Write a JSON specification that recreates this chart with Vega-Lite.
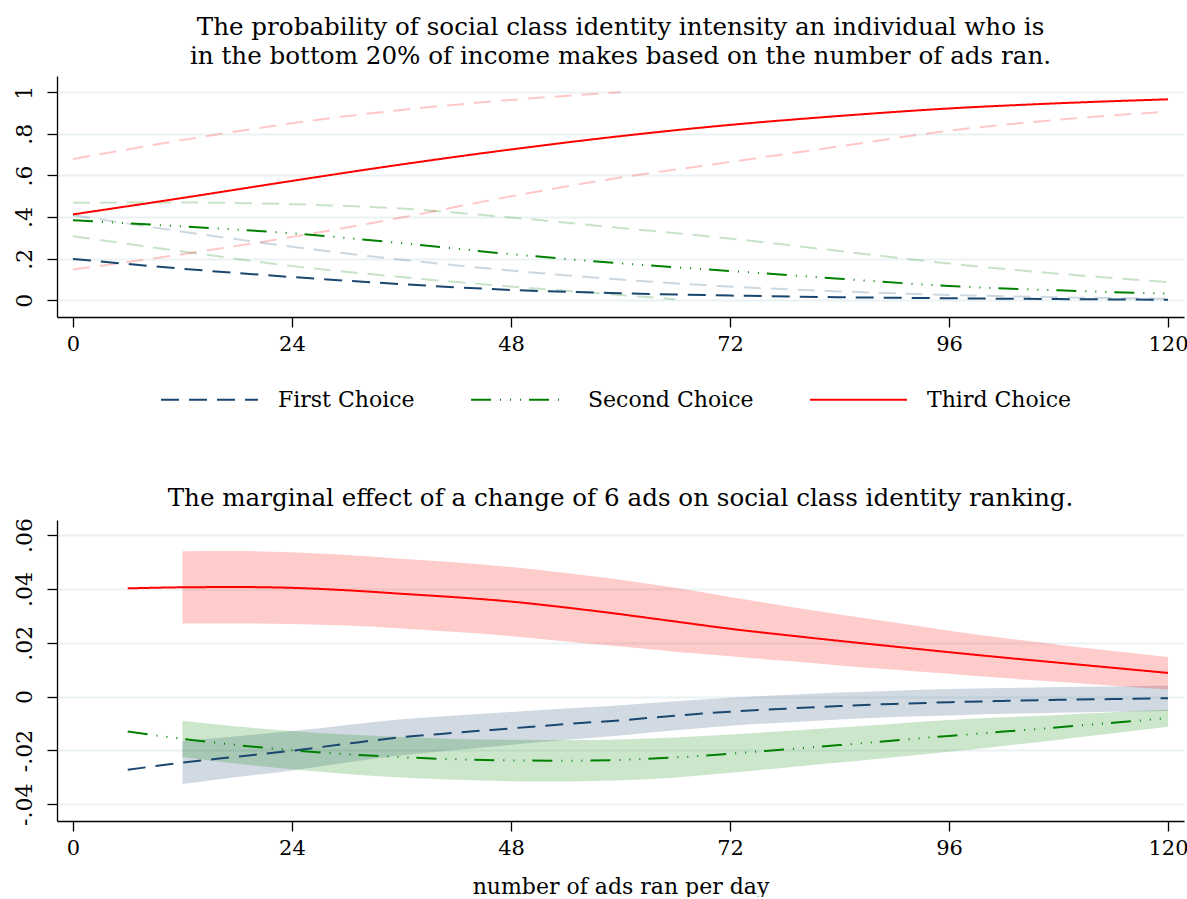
{
  "$schema": "https://vega.github.io/schema/vega-lite/v6.json",
  "background": "white",
  "padding": {"left": 12, "top": 15, "right": 0, "bottom": 0},
  "spacing": 74,
  "config": {
    "font": "DejaVu Serif",
    "view": {"stroke": null},
    "axis": {
      "labelFont": "DejaVu Serif",
      "labelFontSize": 22,
      "labelColor": "black",
      "domainColor": "black",
      "domainWidth": 1.3,
      "tickColor": "black",
      "tickWidth": 1.3,
      "tickSize": 10,
      "gridColor": "#eaf2f3",
      "gridWidth": 1.8,
      "titleFont": "DejaVu Serif",
      "titleFontSize": 22,
      "titleFontWeight": "normal",
      "titleColor": "black"
    },
    "axisY": {"labelAngle": -90, "labelAlign": "center", "labelBaseline": "bottom", "labelPadding": 11},
    "axisX": {"labelPadding": 6, "labelFontSize": 21, "grid": false},
    "title": {"font": "DejaVu Serif", "fontSize": 24.6, "fontWeight": "normal", "color": "black", "lineHeight": 29}
  },
  "resolve": {
    "scale": {"color": "independent", "strokeDash": "independent", "x": "independent", "y": "independent"},
    "legend": {"color": "independent", "strokeDash": "independent"}
  },
  "vconcat": [
    {
      "width": 1127,
      "height": 241,
      "title": {
        "text": [
          "The probability of social class identity intensity an individual who is",
          "in the bottom 20% of income makes based on the number of ads ran."
        ],
        "offset": 6
      },
      "data": {
        "values": [
          {"ads": 0, "choice": "First Choice", "kind": "est", "p": 0.199},
          {"ads": 12, "choice": "First Choice", "kind": "est", "p": 0.152},
          {"ads": 24, "choice": "First Choice", "kind": "est", "p": 0.112},
          {"ads": 36, "choice": "First Choice", "kind": "est", "p": 0.078},
          {"ads": 48, "choice": "First Choice", "kind": "est", "p": 0.050},
          {"ads": 60, "choice": "First Choice", "kind": "est", "p": 0.034},
          {"ads": 72, "choice": "First Choice", "kind": "est", "p": 0.023},
          {"ads": 84, "choice": "First Choice", "kind": "est", "p": 0.015},
          {"ads": 96, "choice": "First Choice", "kind": "est", "p": 0.010},
          {"ads": 108, "choice": "First Choice", "kind": "est", "p": 0.006},
          {"ads": 120, "choice": "First Choice", "kind": "est", "p": 0.003},
          {"ads": 0, "choice": "First Choice", "kind": "hi", "p": 0.409},
          {"ads": 12, "choice": "First Choice", "kind": "hi", "p": 0.330},
          {"ads": 24, "choice": "First Choice", "kind": "hi", "p": 0.258},
          {"ads": 36, "choice": "First Choice", "kind": "hi", "p": 0.195},
          {"ads": 48, "choice": "First Choice", "kind": "hi", "p": 0.143},
          {"ads": 60, "choice": "First Choice", "kind": "hi", "p": 0.100},
          {"ads": 72, "choice": "First Choice", "kind": "hi", "p": 0.066},
          {"ads": 84, "choice": "First Choice", "kind": "hi", "p": 0.043},
          {"ads": 96, "choice": "First Choice", "kind": "hi", "p": 0.026},
          {"ads": 108, "choice": "First Choice", "kind": "hi", "p": 0.015},
          {"ads": 120, "choice": "First Choice", "kind": "hi", "p": 0.008},
          {"ads": 0, "choice": "Second Choice", "kind": "est", "p": 0.385},
          {"ads": 12, "choice": "Second Choice", "kind": "est", "p": 0.355},
          {"ads": 24, "choice": "Second Choice", "kind": "est", "p": 0.322},
          {"ads": 36, "choice": "Second Choice", "kind": "est", "p": 0.275},
          {"ads": 48, "choice": "Second Choice", "kind": "est", "p": 0.222},
          {"ads": 60, "choice": "Second Choice", "kind": "est", "p": 0.178},
          {"ads": 72, "choice": "Second Choice", "kind": "est", "p": 0.141},
          {"ads": 84, "choice": "Second Choice", "kind": "est", "p": 0.104},
          {"ads": 96, "choice": "Second Choice", "kind": "est", "p": 0.069},
          {"ads": 108, "choice": "Second Choice", "kind": "est", "p": 0.048},
          {"ads": 120, "choice": "Second Choice", "kind": "est", "p": 0.032},
          {"ads": 0, "choice": "Second Choice", "kind": "hi", "p": 0.469},
          {"ads": 12, "choice": "Second Choice", "kind": "hi", "p": 0.470},
          {"ads": 24, "choice": "Second Choice", "kind": "hi", "p": 0.462},
          {"ads": 36, "choice": "Second Choice", "kind": "hi", "p": 0.441},
          {"ads": 48, "choice": "Second Choice", "kind": "hi", "p": 0.398},
          {"ads": 60, "choice": "Second Choice", "kind": "hi", "p": 0.348},
          {"ads": 72, "choice": "Second Choice", "kind": "hi", "p": 0.297},
          {"ads": 84, "choice": "Second Choice", "kind": "hi", "p": 0.237},
          {"ads": 96, "choice": "Second Choice", "kind": "hi", "p": 0.177},
          {"ads": 108, "choice": "Second Choice", "kind": "hi", "p": 0.128},
          {"ads": 120, "choice": "Second Choice", "kind": "hi", "p": 0.088},
          {"ads": 0, "choice": "Second Choice", "kind": "lo", "p": 0.308},
          {"ads": 12, "choice": "Second Choice", "kind": "lo", "p": 0.235},
          {"ads": 24, "choice": "Second Choice", "kind": "lo", "p": 0.165},
          {"ads": 36, "choice": "Second Choice", "kind": "lo", "p": 0.112},
          {"ads": 48, "choice": "Second Choice", "kind": "lo", "p": 0.066},
          {"ads": 60, "choice": "Second Choice", "kind": "lo", "p": 0.026},
          {"ads": 66, "choice": "Second Choice", "kind": "lo", "p": 0.005},
          {"ads": 0, "choice": "Third Choice", "kind": "est", "p": 0.413},
          {"ads": 12, "choice": "Third Choice", "kind": "est", "p": 0.492},
          {"ads": 24, "choice": "Third Choice", "kind": "est", "p": 0.574},
          {"ads": 36, "choice": "Third Choice", "kind": "est", "p": 0.653},
          {"ads": 48, "choice": "Third Choice", "kind": "est", "p": 0.725},
          {"ads": 60, "choice": "Third Choice", "kind": "est", "p": 0.789},
          {"ads": 72, "choice": "Third Choice", "kind": "est", "p": 0.843},
          {"ads": 84, "choice": "Third Choice", "kind": "est", "p": 0.886},
          {"ads": 96, "choice": "Third Choice", "kind": "est", "p": 0.922},
          {"ads": 108, "choice": "Third Choice", "kind": "est", "p": 0.947},
          {"ads": 120, "choice": "Third Choice", "kind": "est", "p": 0.966},
          {"ads": 0, "choice": "Third Choice", "kind": "hi", "p": 0.679},
          {"ads": 12, "choice": "Third Choice", "kind": "hi", "p": 0.770},
          {"ads": 24, "choice": "Third Choice", "kind": "hi", "p": 0.851},
          {"ads": 36, "choice": "Third Choice", "kind": "hi", "p": 0.915},
          {"ads": 48, "choice": "Third Choice", "kind": "hi", "p": 0.963},
          {"ads": 60, "choice": "Third Choice", "kind": "hi", "p": 1.000},
          {"ads": 0, "choice": "Third Choice", "kind": "lo", "p": 0.148},
          {"ads": 12, "choice": "Third Choice", "kind": "lo", "p": 0.222},
          {"ads": 24, "choice": "Third Choice", "kind": "lo", "p": 0.305},
          {"ads": 36, "choice": "Third Choice", "kind": "lo", "p": 0.398},
          {"ads": 48, "choice": "Third Choice", "kind": "lo", "p": 0.500},
          {"ads": 60, "choice": "Third Choice", "kind": "lo", "p": 0.590},
          {"ads": 72, "choice": "Third Choice", "kind": "lo", "p": 0.665},
          {"ads": 84, "choice": "Third Choice", "kind": "lo", "p": 0.740},
          {"ads": 96, "choice": "Third Choice", "kind": "lo", "p": 0.815},
          {"ads": 108, "choice": "Third Choice", "kind": "lo", "p": 0.868},
          {"ads": 120, "choice": "Third Choice", "kind": "lo", "p": 0.907}
        ]
      },
      "encoding": {
        "x": {
          "field": "ads",
          "type": "quantitative",
          "scale": {"domain": [-1.75, 121.75], "nice": false, "zero": false},
          "axis": {"values": [0, 24, 48, 72, 96, 120], "title": null}
        },
        "y": {
          "field": "p",
          "type": "quantitative",
          "scale": {"domain": [-0.08, 1.078], "nice": false, "zero": false},
          "axis": {
            "values": [0, 0.2, 0.4, 0.6, 0.8, 1],
            "grid": true,
            "title": null,
            "labelExpr": "datum.value == 0 ? '0' : replace(format(datum.value, '~g'), '0.', '.')"
          }
        },
        "color": {
          "field": "choice",
          "type": "nominal",
          "scale": {"domain": ["First Choice", "Second Choice", "Third Choice"], "range": ["#1a476f", "#008000", "#ff0000"]},
          "legend": {
            "orient": "none",
            "legendX": 103,
            "legendY": 274,
            "direction": "horizontal",
            "title": null,
            "symbolType": "stroke",
            "symbolSize": 9400,
            "symbolStrokeWidth": 2,
            "symbolOpacity": 1,
            "labelFont": "DejaVu Serif",
            "labelFontSize": 22,
            "labelColor": "black",
            "labelLimit": 400,
            "labelOffset": 19,
            "columnPadding": 52
          }
        }
      },
      "layer": [
        {
          "transform": [{"filter": "datum.kind != 'est'"}],
          "mark": {"type": "line", "strokeWidth": 2, "strokeDash": [17, 10], "opacity": 0.22, "interpolate": "monotone"},
          "encoding": {
            "detail": {"field": "kind"}
          }
        },
        {
          "transform": [{"filter": "datum.kind == 'est'"}],
          "mark": {"type": "line", "strokeWidth": 2, "interpolate": "monotone"},
          "encoding": {
            "strokeDash": {
              "field": "choice",
              "type": "nominal",
              "scale": {"domain": ["First Choice", "Second Choice", "Third Choice"], "range": [[18, 10], [20, 9, 1, 9, 1, 9, 1, 8], [1, 0]]},
              "legend": {
                "orient": "none",
                "legendX": 103,
                "legendY": 274,
                "direction": "horizontal",
                "title": null,
                "symbolType": "stroke",
                "symbolSize": 9400,
                "symbolStrokeWidth": 2,
                "symbolOpacity": 1,
                "labelFont": "DejaVu Serif",
                "labelFontSize": 22,
                "labelColor": "black",
                "labelLimit": 400,
                "labelOffset": 19,
                "columnPadding": 52
              }
            }
          }
        }
      ]
    },
    {
      "width": 1127,
      "height": 301,
      "title": {"text": "The marginal effect of a change of 6 ads on social class identity ranking.", "offset": 6},
      "data": {
        "values": [
          {"ads": 6, "choice": "First Choice", "est": -0.0272},
          {"ads": 12, "choice": "First Choice", "est": -0.0245, "lo": -0.0325, "hi": -0.0165},
          {"ads": 18, "choice": "First Choice", "est": -0.0223, "lo": -0.0299, "hi": -0.0147},
          {"ads": 24, "choice": "First Choice", "est": -0.0201, "lo": -0.0274, "hi": -0.0128},
          {"ads": 30, "choice": "First Choice", "est": -0.0175, "lo": -0.0245, "hi": -0.0105},
          {"ads": 36, "choice": "First Choice", "est": -0.0151, "lo": -0.0218, "hi": -0.0084},
          {"ads": 42, "choice": "First Choice", "est": -0.0134, "lo": -0.0198, "hi": -0.0070},
          {"ads": 48, "choice": "First Choice", "est": -0.0118, "lo": -0.0179, "hi": -0.0057},
          {"ads": 54, "choice": "First Choice", "est": -0.0102, "lo": -0.0160, "hi": -0.0044},
          {"ads": 60, "choice": "First Choice", "est": -0.0088, "lo": -0.0144, "hi": -0.0032},
          {"ads": 66, "choice": "First Choice", "est": -0.0071, "lo": -0.0125, "hi": -0.0017},
          {"ads": 72, "choice": "First Choice", "est": -0.0056, "lo": -0.0108, "hi": -0.0004},
          {"ads": 78, "choice": "First Choice", "est": -0.0045, "lo": -0.0096, "hi": 0.0006},
          {"ads": 84, "choice": "First Choice", "est": -0.0035, "lo": -0.0085, "hi": 0.0015},
          {"ads": 90, "choice": "First Choice", "est": -0.0027, "lo": -0.0076, "hi": 0.0022},
          {"ads": 96, "choice": "First Choice", "est": -0.0021, "lo": -0.0070, "hi": 0.0028},
          {"ads": 102, "choice": "First Choice", "est": -0.0016, "lo": -0.0064, "hi": 0.0032},
          {"ads": 108, "choice": "First Choice", "est": -0.0012, "lo": -0.0060, "hi": 0.0036},
          {"ads": 114, "choice": "First Choice", "est": -0.0009, "lo": -0.0056, "hi": 0.0038},
          {"ads": 120, "choice": "First Choice", "est": -0.0006, "lo": -0.0053, "hi": 0.0041},
          {"ads": 6, "choice": "Second Choice", "est": -0.0130},
          {"ads": 12, "choice": "Second Choice", "est": -0.0157, "lo": -0.0224, "hi": -0.0090},
          {"ads": 18, "choice": "Second Choice", "est": -0.0180, "lo": -0.0249, "hi": -0.0111},
          {"ads": 24, "choice": "Second Choice", "est": -0.0199, "lo": -0.0270, "hi": -0.0128},
          {"ads": 30, "choice": "Second Choice", "est": -0.0214, "lo": -0.0287, "hi": -0.0141},
          {"ads": 36, "choice": "Second Choice", "est": -0.0225, "lo": -0.0300, "hi": -0.0150},
          {"ads": 42, "choice": "Second Choice", "est": -0.0233, "lo": -0.0309, "hi": -0.0157},
          {"ads": 48, "choice": "Second Choice", "est": -0.0237, "lo": -0.0314, "hi": -0.0160},
          {"ads": 54, "choice": "Second Choice", "est": -0.0238, "lo": -0.0315, "hi": -0.0161},
          {"ads": 60, "choice": "Second Choice", "est": -0.0235, "lo": -0.0311, "hi": -0.0159},
          {"ads": 66, "choice": "Second Choice", "est": -0.0226, "lo": -0.0300, "hi": -0.0152},
          {"ads": 72, "choice": "Second Choice", "est": -0.0212, "lo": -0.0283, "hi": -0.0141},
          {"ads": 78, "choice": "Second Choice", "est": -0.0196, "lo": -0.0264, "hi": -0.0128},
          {"ads": 84, "choice": "Second Choice", "est": -0.0180, "lo": -0.0245, "hi": -0.0115},
          {"ads": 90, "choice": "Second Choice", "est": -0.0163, "lo": -0.0225, "hi": -0.0101},
          {"ads": 96, "choice": "Second Choice", "est": -0.0146, "lo": -0.0205, "hi": -0.0087},
          {"ads": 102, "choice": "Second Choice", "est": -0.0130, "lo": -0.0183, "hi": -0.0077},
          {"ads": 108, "choice": "Second Choice", "est": -0.0114, "lo": -0.0160, "hi": -0.0068},
          {"ads": 114, "choice": "Second Choice", "est": -0.0097, "lo": -0.0136, "hi": -0.0058},
          {"ads": 120, "choice": "Second Choice", "est": -0.0080, "lo": -0.0112, "hi": -0.0048},
          {"ads": 6, "choice": "Third Choice", "est": 0.0402},
          {"ads": 12, "choice": "Third Choice", "est": 0.0406, "lo": 0.0272, "hi": 0.0540},
          {"ads": 18, "choice": "Third Choice", "est": 0.0407, "lo": 0.0272, "hi": 0.0541},
          {"ads": 24, "choice": "Third Choice", "est": 0.0404, "lo": 0.0270, "hi": 0.0536},
          {"ads": 30, "choice": "Third Choice", "est": 0.0395, "lo": 0.0264, "hi": 0.0526},
          {"ads": 36, "choice": "Third Choice", "est": 0.0382, "lo": 0.0253, "hi": 0.0512},
          {"ads": 42, "choice": "Third Choice", "est": 0.0369, "lo": 0.0240, "hi": 0.0498},
          {"ads": 48, "choice": "Third Choice", "est": 0.0353, "lo": 0.0225, "hi": 0.0481},
          {"ads": 54, "choice": "Third Choice", "est": 0.0331, "lo": 0.0205, "hi": 0.0459},
          {"ads": 60, "choice": "Third Choice", "est": 0.0306, "lo": 0.0186, "hi": 0.0434},
          {"ads": 66, "choice": "Third Choice", "est": 0.0279, "lo": 0.0167, "hi": 0.0404},
          {"ads": 72, "choice": "Third Choice", "est": 0.0252, "lo": 0.0150, "hi": 0.0370},
          {"ads": 78, "choice": "Third Choice", "est": 0.0229, "lo": 0.0133, "hi": 0.0337},
          {"ads": 84, "choice": "Third Choice", "est": 0.0207, "lo": 0.0116, "hi": 0.0305},
          {"ads": 90, "choice": "Third Choice", "est": 0.0186, "lo": 0.0100, "hi": 0.0275},
          {"ads": 96, "choice": "Third Choice", "est": 0.0165, "lo": 0.0085, "hi": 0.0245},
          {"ads": 102, "choice": "Third Choice", "est": 0.0145, "lo": 0.0069, "hi": 0.0218},
          {"ads": 108, "choice": "Third Choice", "est": 0.0126, "lo": 0.0055, "hi": 0.0193},
          {"ads": 114, "choice": "Third Choice", "est": 0.0107, "lo": 0.0040, "hi": 0.0169},
          {"ads": 120, "choice": "Third Choice", "est": 0.0088, "lo": 0.0026, "hi": 0.0147}
        ]
      },
      "encoding": {
        "x": {
          "field": "ads",
          "type": "quantitative",
          "scale": {"domain": [-1.75, 121.75], "nice": false, "zero": false},
          "axis": {"values": [0, 24, 48, 72, 96, 120], "title": "number of ads ran per day", "titlePadding": 18}
        },
        "color": {
          "field": "choice",
          "type": "nominal",
          "scale": {"domain": ["First Choice", "Second Choice", "Third Choice"], "range": ["#1a476f", "#008000", "#ff0000"]},
          "legend": null
        }
      },
      "layer": [
        {
          "mark": {"type": "area", "fillOpacity": 0.2, "interpolate": "monotone"},
          "encoding": {
            "y": {
              "field": "lo",
              "type": "quantitative",
              "scale": {"domain": [-0.0462, 0.0656], "nice": false, "zero": false},
              "axis": {
                "values": [-0.04, -0.02, 0, 0.02, 0.04, 0.06],
                "grid": true,
                "title": null,
                "labelExpr": "datum.value == 0 ? '0' : (datum.value < 0 ? '-' : '') + replace(format(abs(datum.value), '~g'), '0.', '.')"
              }
            },
            "y2": {"field": "hi"},
            "detail": {"field": "choice"}
          }
        },
        {
          "mark": {"type": "line", "strokeWidth": 2, "interpolate": "monotone"},
          "encoding": {
            "y": {"field": "est", "type": "quantitative"},
            "strokeDash": {
              "field": "choice",
              "type": "nominal",
              "scale": {"domain": ["First Choice", "Second Choice", "Third Choice"], "range": [[18, 10], [20, 9, 1, 9, 1, 9, 1, 8], [1, 0]]},
              "legend": null
            }
          }
        }
      ]
    }
  ]
}
